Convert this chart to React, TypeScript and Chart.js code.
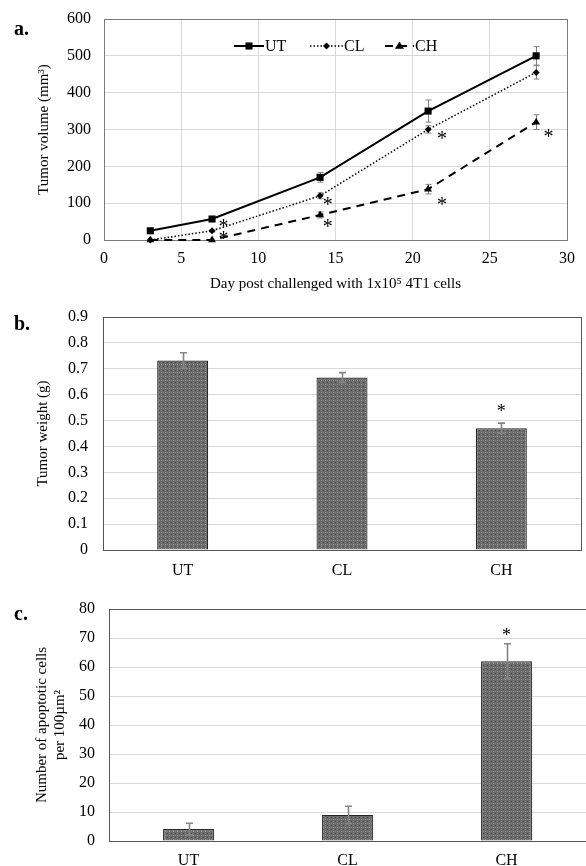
import React, { useEffect, useRef } from "react";
import { Chart, registerables } from "chart.js";

Chart.register(...registerables);

const FONT = "'Liberation Serif', 'Times New Roman', Times, serif";

// ---------- Panel a: tumor volume ----------
const days = [3, 7, 14, 21, 28];
const utVolume = [25, 57, 170, 350, 500];
const utVolumeErr = [3, 5, 13, 30, 25];
const clVolume = [0, 25, 120, 300, 455];
const clVolumeErr = [0, 3, 8, 10, 18];
const chVolume = [0, 0, 68, 138, 320];
const chVolumeErr = [0, 0, 8, 13, 20];
const volumeStarX = [7.75, 7.75, 14.5, 14.5, 21.9, 21.9, 28.8];
const volumeStarY = [47, 13, 106, 47, 285, 106, 290];
const volumeXTicks = [0, 5, 10, 15, 20, 25, 30];
const volumeYTicks = [0, 100, 200, 300, 400, 500, 600];

// ---------- Panel b: tumor weight ----------
const groups = ["UT", "CL", "CH"];
const tumorWeight = [0.732, 0.666, 0.47];
const tumorWeightErr = [0.03, 0.019, 0.02];
const weightStarIdx = [2];
const weightStarY = [0.548];
const weightYTicks = [0, 0.1, 0.2, 0.3, 0.4, 0.5, 0.6, 0.7, 0.8, 0.9];

// ---------- Panel c: apoptotic cells ----------
const apoptoticCells = [4.1, 9, 62];
const apoptoticErr = [2, 3, 6];
const apoptoticStarIdx = [2];
const apoptoticStarY = [72];
const apoptoticYTicks = [0, 10, 20, 30, 40, 50, 60, 70, 80];

Chart.defaults.font.family = FONT;
Chart.defaults.color = "#000";

function drawMarker(ctx: CanvasRenderingContext2D, style: string, x: number, y: number, r: number) {
  ctx.beginPath();
  if (style === "rect") {
    const s = r * Math.SQRT1_2;
    ctx.rect(x - s, y - s, 2 * s, 2 * s);
  } else if (style === "rectRot") {
    ctx.moveTo(x, y - r);
    ctx.lineTo(x + r, y);
    ctx.lineTo(x, y + r);
    ctx.lineTo(x - r, y);
    ctx.closePath();
  } else if (style === "triangle") {
    ctx.moveTo(x, y - r);
    ctx.lineTo(x + r, y + r * 0.6);
    ctx.lineTo(x - r, y + r * 0.6);
    ctx.closePath();
  } else {
    ctx.arc(x, y, r, 0, Math.PI * 2);
  }
  ctx.fill();
}

function drawErrors(chart: any, opts: any) {
  const ctx = chart.ctx as CanvasRenderingContext2D;
  const ys = chart.scales.y;
  ctx.save();
  ctx.strokeStyle = opts.color || "#7f7f7f";
  ctx.lineWidth = opts.width || 1;
  const cap = opts.cap || 3;
  chart.data.datasets.forEach((ds: any, i: number) => {
    const errs = ds.errors;
    if (!errs) return;
    const meta = chart.getDatasetMeta(i);
    meta.data.forEach((el: any, j: number) => {
      const raw = ds.data[j];
      const v = typeof raw === "number" ? raw : raw.y;
      const e = errs[j];
      if (!e) return;
      const x = Math.round(el.x) + 0.5;
      const y1 = ys.getPixelForValue(v + e);
      const y2 = ys.getPixelForValue(v - e);
      ctx.beginPath();
      ctx.moveTo(x, y1);
      ctx.lineTo(x, y2);
      ctx.moveTo(x - cap, y1);
      ctx.lineTo(x + cap, y1);
      ctx.moveTo(x - cap, y2);
      ctx.lineTo(x + cap, y2);
      ctx.stroke();
    });
  });
  ctx.restore();
}

const errorBarPlugin = {
  id: "errorBars",
  beforeDatasetsDraw(chart: any, _a: any, opts: any) {
    if (!opts.onTop) drawErrors(chart, opts);
  },
  afterDatasetsDraw(chart: any, _a: any, opts: any) {
    if (opts.onTop) drawErrors(chart, opts);
  },
};

const framePlugin = {
  id: "frame",
  beforeDatasetsDraw(chart: any, _a: any, opts: any) {
    const { left, top, right, bottom } = chart.chartArea;
    const ctx = chart.ctx as CanvasRenderingContext2D;
    ctx.save();
    ctx.strokeStyle = opts.color || "#666";
    ctx.lineWidth = 1;
    ctx.strokeRect(Math.round(left) + 0.5, Math.round(top) + 0.5, Math.round(right - left), Math.round(bottom - top));
    ctx.restore();
  },
};

const starPlugin = {
  id: "stars",
  afterDatasetsDraw(chart: any, _a: any, opts: any) {
    const ctx = chart.ctx as CanvasRenderingContext2D;
    const size = opts.size || 18;
    ctx.save();
    ctx.fillStyle = "#000";
    ctx.font = `${size}px ${FONT}`;
    ctx.textAlign = "center";
    ctx.textBaseline = "alphabetic";
    (opts.xs || []).forEach((xv: number, k: number) => {
      const px = chart.scales.x.getPixelForValue(xv);
      const py = chart.scales.y.getPixelForValue(opts.ys[k]);
      ctx.fillText("*", px, py + size * 0.5);
    });
    ctx.restore();
  },
};

const panelLabelPlugin = {
  id: "panelLabel",
  afterDraw(chart: any, _a: any, opts: any) {
    const ctx = chart.ctx as CanvasRenderingContext2D;
    ctx.save();
    ctx.fillStyle = "#000";
    ctx.font = `bold 20px ${FONT}`;
    ctx.textAlign = "left";
    ctx.textBaseline = "alphabetic";
    ctx.fillText(opts.text, opts.x, opts.y);
    ctx.restore();
  },
};

const lineLegendPlugin = {
  id: "lineLegend",
  afterDraw(chart: any, _a: any, opts: any) {
    const ctx = chart.ctx as CanvasRenderingContext2D;
    const y = opts.y;
    ctx.save();
    ctx.font = `16px ${FONT}`;
    ctx.textBaseline = "middle";
    ctx.textAlign = "left";
    opts.items.forEach((it: any, i: number) => {
      const ds = chart.data.datasets[i];
      ctx.strokeStyle = "#000";
      ctx.fillStyle = "#000";
      ctx.lineWidth = ds.borderWidth;
      ctx.setLineDash(ds.borderDash || []);
      ctx.beginPath();
      ctx.moveTo(it.x0, y);
      ctx.lineTo(it.x1, y);
      ctx.stroke();
      ctx.setLineDash([]);
      drawMarker(ctx, ds.pointStyle, (it.x0 + it.x1) / 2, y, ds.pointRadius);
      ctx.fillText(ds.label, it.x1 + 1, y + 1);
    });
    ctx.restore();
  },
};

function makePattern(): CanvasPattern | string {
  const c = document.createElement("canvas");
  c.width = 4;
  c.height = 4;
  const g = c.getContext("2d");
  if (!g) return "#6d6d6d";
  g.fillStyle = "#6a6a6a";
  g.fillRect(0, 0, 4, 4);
  g.fillStyle = "#9c9c9c";
  g.fillRect(1, 1, 1, 1);
  g.fillStyle = "#4a4a4a";
  g.fillRect(3, 3, 1, 1);
  g.fillStyle = "#7c7c7c";
  g.fillRect(1, 3, 1, 1);
  g.fillRect(3, 1, 1, 1);
  const p = g.createPattern(c, "repeat");
  return p || "#6d6d6d";
}

const tickFont = { family: FONT, size: 16 };
const titleFont = { family: FONT, size: 15, lineHeight: 1.2 };

function fixY(width: number) {
  return (s: any) => {
    s.width = width;
    s.paddingTop = 0;
    s.paddingBottom = 0;
  };
}
function fixX(height: number) {
  return (s: any) => {
    s.height = height;
    s.paddingLeft = 0;
    s.paddingRight = 0;
  };
}

function volumeConfig(): any {
  const pts = (vals: number[]) => days.map((d, i) => ({ x: d, y: vals[i] }));
  return {
    type: "line",
    data: {
      datasets: [
        {
          label: "UT",
          data: pts(utVolume),
          errors: utVolumeErr,
          borderColor: "#000",
          backgroundColor: "#000",
          borderWidth: 2,
          borderDash: [],
          pointStyle: "rect",
          pointRadius: 5,
          pointBorderWidth: 0,
          tension: 0,
          clip: false,
        },
        {
          label: "CL",
          data: pts(clVolume),
          errors: clVolumeErr,
          borderColor: "#000",
          backgroundColor: "#000",
          borderWidth: 1.5,
          borderDash: [1.5, 2],
          pointStyle: "rectRot",
          pointRadius: 3.5,
          pointBorderWidth: 0,
          tension: 0,
          clip: false,
        },
        {
          label: "CH",
          data: pts(chVolume),
          errors: chVolumeErr,
          borderColor: "#000",
          backgroundColor: "#000",
          borderWidth: 2,
          borderDash: [8, 6],
          pointStyle: "triangle",
          pointRadius: 4.5,
          pointBorderWidth: 0,
          tension: 0,
          clip: false,
        },
      ],
    },
    options: {
      animation: false,
      responsive: false,
      devicePixelRatio: 1,
      layout: { padding: { top: 19, right: 19, left: 0, bottom: 0 } },
      plugins: {
        legend: { display: false },
        tooltip: { enabled: false },
        errorBars: { onTop: false, color: "#808080", width: 1, cap: 3 },
        frame: { color: "#7a7a7a" },
        stars: { xs: volumeStarX, ys: volumeStarY, size: 20 },
        panelLabel: { text: "a.", x: 14, y: 35 },
        lineLegend: {
          y: 46,
          items: [
            { x0: 234, x1: 264 },
            { x0: 310, x1: 343 },
            { x0: 385, x1: 414 },
          ],
        },
      },
      scales: {
        x: {
          type: "linear",
          min: volumeXTicks[0],
          max: volumeXTicks[volumeXTicks.length - 1],
          ticks: { stepSize: volumeXTicks[1] - volumeXTicks[0], font: tickFont, padding: 9, color: "#000" },
          grid: { color: "#d9d9d9", drawTicks: false },
          border: { display: false },
          title: {
            display: true,
            text: "Day post challenged with 1x10\u2075 4T1 cells",
            font: titleFont,
            color: "#000",
            padding: { top: 0, bottom: 2 },
          },
          afterFit: fixX(55),
        },
        y: {
          type: "linear",
          min: volumeYTicks[0],
          max: volumeYTicks[volumeYTicks.length - 1],
          ticks: { stepSize: volumeYTicks[1] - volumeYTicks[0], font: tickFont, padding: 13, color: "#000" },
          grid: { color: "#d9d9d9", drawTicks: false },
          border: { display: false },
          title: {
            display: true,
            text: "Tumor volume (mm\u00b3)",
            font: titleFont,
            color: "#000",
            padding: { top: 35, bottom: 0 },
          },
          afterFit: fixY(104),
        },
      },
    },
    plugins: [framePlugin, errorBarPlugin, starPlugin, panelLabelPlugin, lineLegendPlugin],
  };
}

function barConfig(p: {
  values: number[];
  errors: number[];
  ticks: number[];
  starIdx: number[];
  starY: number[];
  title: string | string[];
  titlePad: number;
  label: string;
  labelY: number;
  top: number;
  right: number;
  yWidth: number;
  xHeight: number;
  yPad: number;
  xPad: number;
}): any {
  return {
    type: "bar",
    data: {
      labels: groups,
      datasets: [
        {
          data: p.values,
          errors: p.errors,
          backgroundColor: makePattern(),
          borderColor: "#262626",
          borderWidth: 1.2,
          barPercentage: 0.32,
          categoryPercentage: 1,
        },
      ],
    },
    options: {
      animation: false,
      responsive: false,
      devicePixelRatio: 1,
      layout: { padding: { top: p.top, right: p.right, left: 0, bottom: 0 } },
      plugins: {
        legend: { display: false },
        tooltip: { enabled: false },
        errorBars: { onTop: true, color: "#858585", width: 1.6, cap: 3.5 },
        frame: { color: "#555" },
        stars: { xs: p.starIdx, ys: p.starY, size: 18 },
        panelLabel: { text: p.label, x: 14, y: p.labelY },
      },
      scales: {
        x: {
          type: "category",
          offset: true,
          ticks: { font: tickFont, padding: p.xPad, color: "#000" },
          grid: { display: false, drawTicks: false },
          border: { display: false },
          afterFit: fixX(p.xHeight),
        },
        y: {
          type: "linear",
          min: p.ticks[0],
          max: p.ticks[p.ticks.length - 1],
          ticks: { stepSize: p.ticks[1] - p.ticks[0], font: tickFont, padding: p.yPad, color: "#000" },
          grid: { color: "#d9d9d9", drawTicks: false },
          border: { display: false },
          title: {
            display: true,
            text: p.title,
            font: titleFont,
            color: "#000",
            padding: { top: p.titlePad, bottom: 0 },
          },
          afterFit: fixY(p.yWidth),
        },
      },
    },
    plugins: [framePlugin, errorBarPlugin, starPlugin, panelLabelPlugin],
  };
}

function ChartCanvas({ height, build }: { height: number; build: () => any }) {
  const ref = useRef<HTMLCanvasElement | null>(null);
  useEffect(() => {
    const cv = ref.current;
    if (!cv) return;
    const chart = new Chart(cv, build());
    return () => chart.destroy();
  }, []);
  return (
    <canvas
      ref={ref}
      width={586}
      height={height}
      style={{ display: "block", width: 586, height }}
    />
  );
}

export default function App() {
  return (
    <div
      style={{
        position: "absolute",
        left: 0,
        top: 0,
        width: 586,
        height: 866,
        background: "#fff",
        overflow: "hidden",
      }}
    >
      <ChartCanvas height={295} build={volumeConfig} />
      <ChartCanvas
        height={295}
        build={() =>
          barConfig({
            values: tumorWeight,
            errors: tumorWeightErr,
            ticks: weightYTicks,
            starIdx: weightStarIdx,
            starY: weightStarY,
            title: "Tumor weight (g)",
            titlePad: 34,
            label: "b.",
            labelY: 35,
            top: 22,
            right: 5,
            yWidth: 103,
            xHeight: 40,
            yPad: 15,
            xPad: 11,
          })
        }
      />
      <ChartCanvas
        height={276}
        build={() =>
          barConfig({
            values: apoptoticCells,
            errors: apoptoticErr,
            ticks: apoptoticYTicks,
            starIdx: apoptoticStarIdx,
            starY: apoptoticStarY,
            title: ["Number of apoptotic cells", "per 100\u00b5m\u00b2"],
            titlePad: 33,
            label: "c.",
            labelY: 30,
            top: 19,
            right: 0,
            yWidth: 109,
            xHeight: 25,
            yPad: 14,
            xPad: 10,
          })
        }
      />
    </div>
  );
}
